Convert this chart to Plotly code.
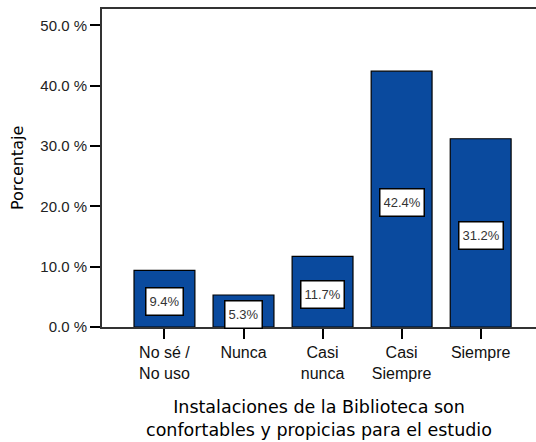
import plotly.graph_objects as go

categories = ['No sé /<br>No uso', 'Nunca', 'Casi<br>nunca', 'Casi<br>Siempre', 'Siempre']
values = [9.4, 5.3, 11.7, 42.4, 31.2]
y_ticks = [0, 10, 20, 30, 40, 50]
y_tick_labels = ['0.0 %', '10.0 %', '20.0 %', '30.0 %', '40.0 %', '50.0 %']

fig = go.Figure()
fig.add_trace(go.Bar(
    x=list(range(len(categories))), y=values, width=0.77,
    marker=dict(color='#0a4a9e', line=dict(color='black', width=1.2)),
    hoverinfo='skip'
))

# value labels: white boxes in the middle of each bar
for i, v in enumerate(values):
    fig.add_annotation(
        x=i, y=v / 2, text=f'{v}%', showarrow=False, yshift=-3,
        font=dict(size=13, color='#333333', family='Liberation Sans, Arial'),
        bgcolor='white', bordercolor='black', borderwidth=1.5, borderpad=3,
        height=20
    )

# y axis title placed by hand so it sits close to the left edge
fig.add_annotation(
    x=0, y=0.5, xref='paper', yref='paper', xanchor='center', yanchor='middle',
    xshift=-85, text='Porcentaje', textangle=-90, showarrow=False,
    font=dict(size=16, family='DejaVu Sans', color='black')
)

fig.update_layout(
    width=536, height=442,
    margin=dict(l=102, r=0, t=9, b=115),
    plot_bgcolor='white', paper_bgcolor='white',
    showlegend=False,
    font=dict(family='Liberation Sans, Arial', size=15, color='black'),
)
fig.update_xaxes(
    range=[-0.79, 4.70],
    tickmode='array', tickvals=list(range(len(categories))), ticktext=categories,
    ticks='outside', ticklen=10, tickcolor='black', tickwidth=1.5,
    showline=True, linecolor='#333333', linewidth=2, mirror=True,
    showgrid=False, zeroline=False,
    tickfont=dict(size=16, color='#111111'),
    title=dict(text='Instalaciones de la Biblioteca son<br>confortables y propicias para el estudio',
               font=dict(size=17.5, family='DejaVu Sans'), standoff=20)
)
fig.update_yaxes(
    range=[0, 52.7],
    tickmode='array', tickvals=y_ticks, ticktext=y_tick_labels,
    ticks='outside', ticklen=10, tickcolor='black', tickwidth=1.5,
    showline=True, linecolor='#333333', linewidth=2,
    showgrid=False, zeroline=False,
    tickfont=dict(size=15, color='#222222'),
)

fig.write_html('out.html', config={'displayModeBar': False},
               post_script="document.body.style.margin='0';")
